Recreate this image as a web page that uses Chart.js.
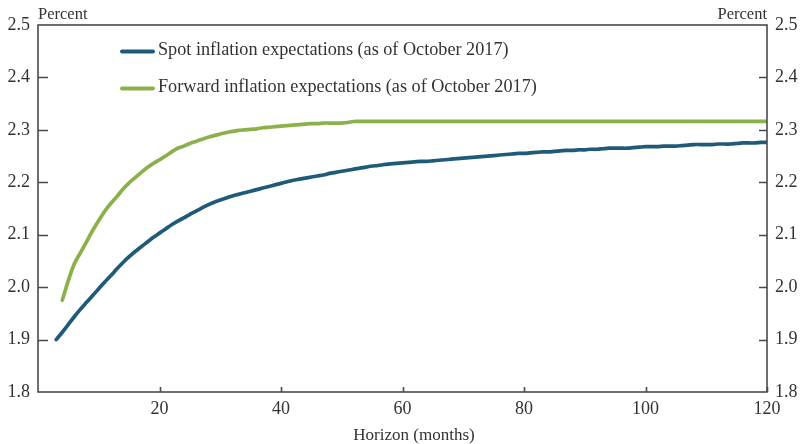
<!DOCTYPE html>
<html>
<head>
<meta charset="utf-8">
<script src="https://cdn.jsdelivr.net/npm/chart.js@4/dist/chart.umd.min.js"></script>
<style>
html,body{margin:0;padding:0;background:#fff;}
#wrap{width:801px;height:444px;position:relative;}
</style>
</head>
<body>
<div id="wrap"><canvas id="c" width="801" height="444"></canvas></div>
<script>
const months = [3,4,5,6,7,8,9,10,11,12,13,14,15,16,17,18,19,20,21,22,23,24,25,26,27,28,29,30,31,32,33,34,35,36,37,38,39,40,41,42,43,44,45,46,47,48,49,50,51,52,53,54,55,56,57,58,59,60,61,62,63,64,65,66,67,68,69,70,71,72,73,74,75,76,77,78,79,80,81,82,83,84,85,86,87,88,89,90,91,92,93,94,95,96,97,98,99,100,101,102,103,104,105,106,107,108,109,110,111,112,113,114,115,116,117,118,119,120];

const spotValues = [
1.900,1.914,1.929,1.944,1.958,1.971,1.984,1.997,2.010,2.022,
2.035,2.047,2.058,2.068,2.077,2.086,2.095,2.103,2.111,2.119,
2.126,2.132,2.139,2.145,2.151,2.157,2.162,2.166,2.170,2.174,
2.177,2.180,2.183,2.186,2.189,2.192,2.195,2.198,2.201,2.204,
2.206,2.208,2.210,2.212,2.214,2.217,2.219,2.221,2.223,2.225,
2.227,2.229,2.231,2.232,2.234,2.235,2.236,2.237,2.238,2.239,
2.240,2.240,2.241,2.242,2.243,2.244,2.245,2.246,2.247,2.248,
2.249,2.250,2.251,2.252,2.253,2.254,2.255,2.255,2.256,2.257,
2.258,2.258,2.259,2.260,2.261,2.261,2.262,2.262,2.263,2.263,
2.264,2.265,2.265,2.265,2.265,2.266,2.267,2.268,2.268,2.268,
2.269,2.269,2.269,2.270,2.271,2.272,2.272,2.272,2.272,2.273,
2.273,2.273,2.274,2.275,2.275,2.275,2.276,2.276];

const forwardValues = [
null,1.975,2.013,2.045,2.066,2.087,2.108,2.127,2.145,2.160,
2.173,2.187,2.199,2.209,2.219,2.228,2.236,2.243,2.250,2.258,
2.265,2.269,2.274,2.278,2.282,2.286,2.289,2.292,2.295,2.297,
2.299,2.300,2.301,2.302,2.304,2.305,2.306,2.307,2.308,2.309,
2.310,2.311,2.312,2.312,2.313,2.313,2.313,2.313,2.314,2.316,
2.316,2.316,2.316,2.316,2.316,2.316,2.316,2.316,2.316,2.316,
2.316,2.316,2.316,2.316,2.316,2.316,2.316,2.316,2.316,2.316,
2.316,2.316,2.316,2.316,2.316,2.316,2.316,2.316,2.316,2.316,
2.316,2.316,2.316,2.316,2.316,2.316,2.316,2.316,2.316,2.316,
2.316,2.316,2.316,2.316,2.316,2.316,2.316,2.316,2.316,2.316,
2.316,2.316,2.316,2.316,2.316,2.316,2.316,2.316,2.316,2.316,
2.316,2.316,2.316,2.316,2.316,2.316,2.316,2.316];

const seriesNames = ['Spot inflation expectations (as of October 2017)', 'Forward inflation expectations (as of October 2017)'];
const xTicks = [20,40,60,80,100,120];
const yTicks = [1.8,1.9,2.0,2.1,2.2,2.3,2.4,2.5];
const yUnit = 'Percent';
const xTitle = 'Horizon (months)';

const BLUE = '#1f5b79';
const GREEN = '#8cb04a';
const AXIS = '#4a4a4a';
const TEXT = '#333333';
const FONT = '"Liberation Serif", "DejaVu Serif", serif';

const framePlugin = {
  id: 'frame',
  afterDraw(chart) {
    const {ctx, chartArea: a, scales} = chart;
    ctx.save();
    ctx.strokeStyle = AXIS;
    ctx.lineWidth = 1.6;
    ctx.strokeRect(a.left, a.top, a.right - a.left, a.bottom - a.top);
    ctx.beginPath();
    yTicks.forEach(v => {
      if (v === scales.y.min || v === scales.y.max) return;
      const py = Math.round(scales.y.getPixelForValue(v)) + 0.5;
      ctx.moveTo(a.left, py); ctx.lineTo(a.left + 10, py);
      const py2 = Math.round(scales.y2.getPixelForValue(v)) + 0.5;
      ctx.moveTo(a.right, py2); ctx.lineTo(a.right - 8, py2);
    });
    xTicks.forEach(v => {
      const px = Math.round(scales.x.getPixelForValue(v)) + 0.5;
      ctx.moveTo(px, a.bottom); ctx.lineTo(px, a.bottom - 5);
    });
    ctx.stroke();
    ctx.fillStyle = TEXT;
    ctx.font = '16.5px ' + FONT;
    ctx.textBaseline = 'alphabetic';
    ctx.textAlign = 'left';
    ctx.fillText(yUnit, a.left, 19);
    ctx.textAlign = 'right';
    ctx.fillText(yUnit, a.right, 19);
    // x-axis title
    ctx.textAlign = 'center';
    ctx.font = '17px ' + FONT;
    ctx.fillText(xTitle, 414, 440);
    // legend
    const colors = [BLUE, GREEN];
    const ys = [51.5, 88.5];
    ctx.lineCap = 'round';
    ctx.lineWidth = 4;
    ctx.font = '18.2px ' + FONT;
    ctx.textAlign = 'left';
    ctx.textBaseline = 'middle';
    seriesNames.forEach((n, i) => {
      ctx.strokeStyle = colors[i];
      ctx.beginPath();
      ctx.moveTo(122, ys[i]); ctx.lineTo(153, ys[i]);
      ctx.stroke();
      ctx.fillStyle = TEXT;
      ctx.fillText(n, 158, ys[i] - 1);
    });
    ctx.restore();
  }
};

const toPts = vals => months.map((m, i) => ({x: m, y: vals[i]}));

new Chart(document.getElementById('c'), {
  type: 'line',
  data: {
    datasets: [
      {label: seriesNames[0], data: toPts(spotValues), borderColor: BLUE, borderWidth: 3.7, pointRadius: 0, tension: 0.3, borderCapStyle: 'round', borderJoinStyle: 'round', yAxisID: 'y'},
      {label: seriesNames[1], data: toPts(forwardValues), borderColor: GREEN, borderWidth: 3.7, pointRadius: 0, tension: 0.3, borderCapStyle: 'round', borderJoinStyle: 'round', spanGaps: false, yAxisID: 'y'}
    ]
  },
  options: {
    responsive: false,
    animation: false,
    layout: {padding: {top: 25, left: 0, right: 0, bottom: 0}},
    plugins: {legend: {display: false}, tooltip: {enabled: false}},
    scales: {
      x: {
        type: 'linear', min: 0, max: 120,
        afterBuildTicks: s => { s.ticks = xTicks.map(v => ({value: v})); },
        ticks: {autoSkip: false, maxRotation: 0, color: TEXT, font: {family: FONT, size: 18}, padding: 6},
        grid: {display: false, drawTicks: false},
        border: {display: false},
        title: {display: false},
        afterFit: s => { s.height = 52; }
      },
      y: {
        position: 'left', min: 1.8, max: 2.5,
        afterBuildTicks: s => { s.ticks = yTicks.map(v => ({value: v})); },
        ticks: {color: TEXT, font: {family: FONT, size: 18}, padding: 8, callback: v => v.toFixed(1)},
        grid: {display: false, drawTicks: false},
        border: {display: false},
        afterFit: s => { s.width = 38; }
      },
      y2: {
        position: 'right', min: 1.8, max: 2.5,
        afterBuildTicks: s => { s.ticks = yTicks.map(v => ({value: v})); },
        ticks: {color: TEXT, font: {family: FONT, size: 18}, padding: 8, callback: v => v.toFixed(1)},
        grid: {display: false, drawTicks: false},
        border: {display: false},
        afterFit: s => { s.width = 34; }
      }
    }
  },
  plugins: [framePlugin]
});
</script>
</body>
</html>
